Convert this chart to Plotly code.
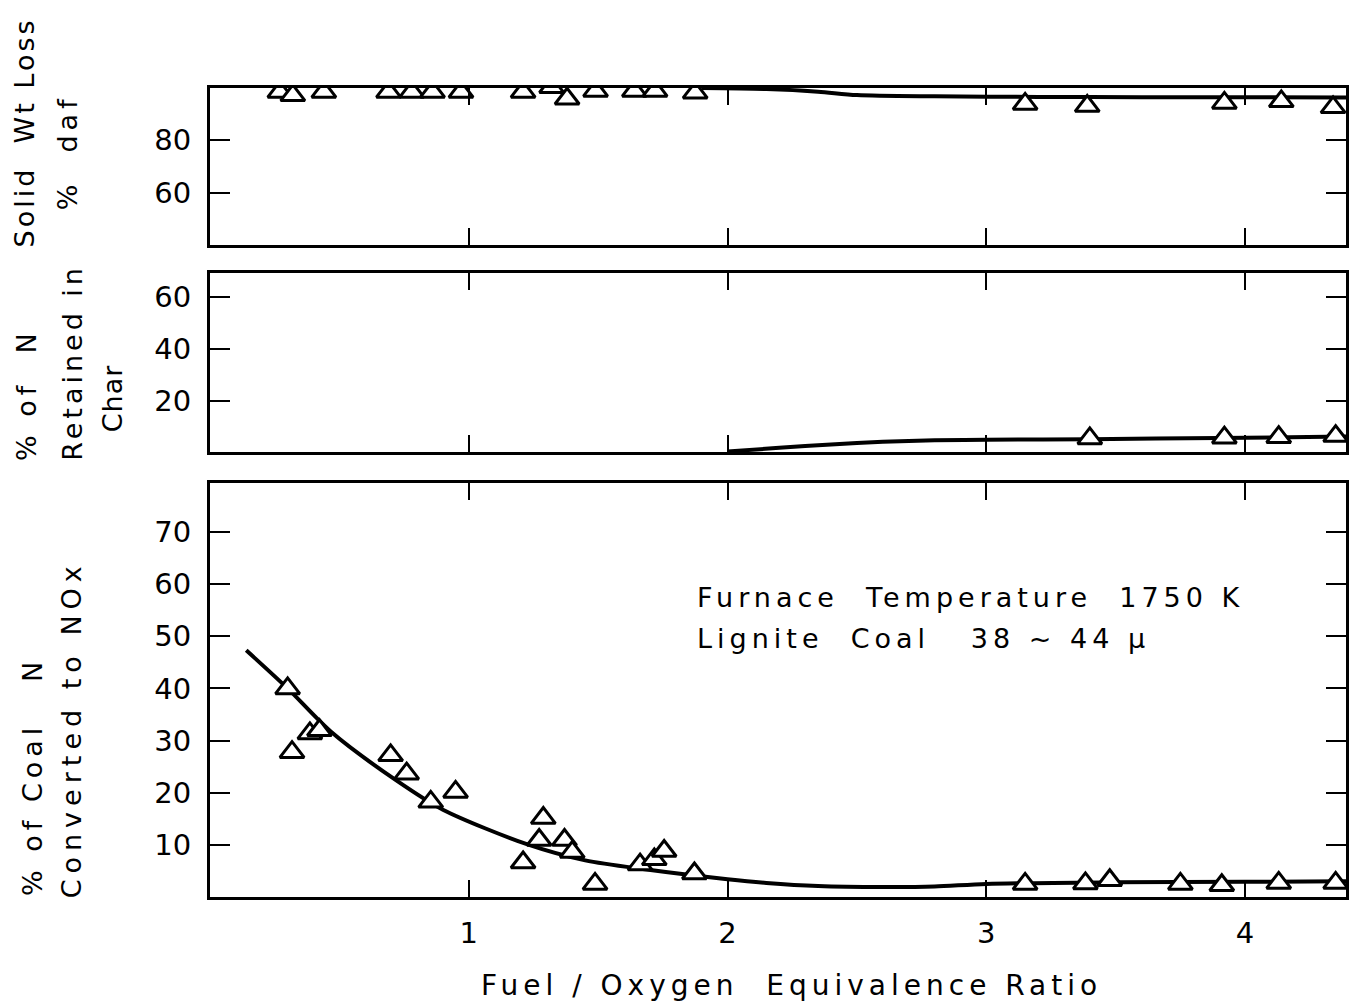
import plotly.graph_objects as go
from plotly.subplots import make_subplots

# ---- data -------------------------------------------------------------
# Solid weight loss (% daf)
wl_x = [0.27, 0.32, 0.44, 0.69, 0.78, 0.86, 0.97, 1.21, 1.32, 1.38, 1.49,
        1.64, 1.72, 1.875, 3.15, 3.39, 3.92, 4.14, 4.34]
wl_y = [98.5, 97.2, 98.5, 98.5, 98.5, 98.5, 98.5, 98.5, 100.3, 95.9, 98.9,
        98.9, 98.9, 98.2, 93.9, 93.1, 94.3, 94.9, 92.6]
wl_fit_x = [1.9, 2.15, 2.35, 2.5, 2.8, 3.2, 3.6, 4.0, 4.39]
wl_fit_y = [100.0, 99.6, 98.6, 97.3, 96.8, 96.6, 96.5, 96.5, 96.4]

# Nitrogen retained in char (%)
char_x = [3.40, 3.92, 4.13, 4.35]
char_y = [5.6, 5.9, 6.1, 6.5]
char_fit_x = [2.0, 2.2, 2.4, 2.6, 2.8, 3.0, 3.4, 3.9, 4.39]
char_fit_y = [0.6, 2.0, 3.3, 4.3, 4.9, 5.1, 5.3, 5.8, 6.3]

# Coal nitrogen converted to NOx (%)
nox_x = [0.30, 0.317, 0.386, 0.423, 0.698, 0.76, 0.853, 0.949, 1.21, 1.272,
         1.288, 1.37, 1.40, 1.488, 1.662, 1.717, 1.755, 1.872,
         3.15, 3.383, 3.477, 3.75, 3.91, 4.13, 4.35]
nox_y = [40.0, 27.8, 31.4, 32.0, 27.2, 23.7, 18.3, 20.2, 6.7, 11.0,
         15.2, 11.0, 8.7, 2.6, 6.3, 7.3, 8.9, 4.6,
         2.6, 2.7, 3.3, 2.6, 2.35, 2.8, 2.8]
nox_fit_x = [0.14, 0.30, 0.47, 0.72, 0.90, 1.23, 1.45, 1.68, 2.0, 2.15,
             2.35, 2.6, 2.8, 3.0, 3.5, 4.0, 4.39]
nox_fit_y = [47.3, 40.0, 31.6, 22.4, 16.8, 10.1, 7.1, 5.4, 3.5, 2.8,
             2.2, 2.0, 2.1, 2.6, 2.9, 3.0, 3.1]

x_ticks = [1, 2, 3, 4]
wl_ticks = [60, 80]
char_ticks = [20, 40, 60]
nox_ticks = [10, 20, 30, 40, 50, 60, 70]

# ---- page geometry (pixels) --------------------------------------------
W, H = 1353, 1006
LEFT, RIGHT = 210, 1349
TOP, BOTTOM = 88, 897
PLOT_W = RIGHT - LEFT
PLOT_H = BOTTOM - TOP


def px(xp):
    return (xp - LEFT) / PLOT_W


def py(yp):
    return (BOTTOM - yp) / PLOT_H


def spaced(text, gap):
    """Wrap text in a span with extra letter spacing (wide lettering)."""
    return f'<span style="letter-spacing:{gap}px">{text}</span>'


FONT = "DejaVu Sans"
INK = "black"

fig = make_subplots(rows=3, cols=1)

fit_line = dict(color=INK, width=4, shape="spline", smoothing=0.8)
tri = dict(symbol="triangle-up", size=21, color="white",
           line=dict(color=INK, width=3))

panels = [
    (wl_fit_x, wl_fit_y, wl_x, wl_y),
    (char_fit_x, char_fit_y, char_x, char_y),
    (nox_fit_x, nox_fit_y, nox_x, nox_y),
]
for i, (fx, fy, mx, my) in enumerate(panels, start=1):
    fig.add_trace(go.Scatter(x=fx, y=fy, mode="lines", line=fit_line,
                             hoverinfo="skip", showlegend=False),
                  row=i, col=1)
    fig.add_trace(go.Scatter(x=mx, y=my, mode="markers", marker=tri,
                             showlegend=False),
                  row=i, col=1)

axis_common = dict(showgrid=False, zeroline=False, showline=True,
                   linecolor=INK, linewidth=3, mirror="ticks",
                   ticks="inside", tickcolor=INK, tickwidth=2,
                   tickfont=dict(family=FONT, size=29, color=INK))

domains = [(py(245), py(88)), (py(452), py(272.7)), (py(897), py(483))]
y_ranges = [[40, 100], [0.4, 69.2], [0.1, 79.3]]
y_ticks = [wl_ticks, char_ticks, nox_ticks]

for i in range(3):
    xa = "xaxis" if i == 0 else f"xaxis{i + 1}"
    ya = "yaxis" if i == 0 else f"yaxis{i + 1}"
    fig.layout[xa].update(axis_common, range=[0, 4.39], tickvals=x_ticks,
                          ticklen=17, showticklabels=(i == 2),
                          ticklabelstandoff=8, domain=[0, 1])
    fig.layout[ya].update(axis_common, range=y_ranges[i], tickvals=y_ticks[i],
                          ticklen=20, ticklabelstandoff=10,
                          domain=list(domains[i]))

# ---- axis titles ---------------------------------------------------------
title_font = dict(family=FONT, size=27, color=INK)
annotations = []


def vtext(text, xp, yp, yanchor, gap=5):
    annotations.append(dict(text=spaced(text, gap), x=px(xp), y=py(yp),
                            xref="paper", yref="paper", textangle=-90,
                            showarrow=False, xanchor="center",
                            yanchor=yanchor, font=title_font))


vtext("Solid  Wt Loss", 25, 249, "bottom", gap=3)
vtext("%  daf", 68, 152, "middle")
vtext("% of  N", 26, 463, "bottom")
vtext("Retained in", 72, 463, "bottom", gap=4)
vtext("Char", 112, 398, "middle", gap=1)
vtext("% of Coal   N", 32, 898, "bottom")
vtext("Converted to NOx", 72, 900, "bottom", gap=6)

annotations.append(dict(text=spaced("Fuel / Oxygen  Equivalence Ratio", 5),
                        x=px(793), y=py(985), xref="paper", yref="paper",
                        showarrow=False, xanchor="center", yanchor="middle",
                        font=dict(family=FONT, size=28, color=INK)))

# run conditions, written inside the NOx panel
note_font = dict(family=FONT, size=27, color=INK)
annotations.append(dict(text=spaced("Furnace  Temperature  1750 K", 5),
                        x=1.875, y=57.4, xref="x3", yref="y3",
                        showarrow=False, xanchor="left", yanchor="middle",
                        font=note_font))
annotations.append(dict(text=spaced("Lignite  Coal   38 ~ 44 μ", 5),
                        x=1.875, y=49.6, xref="x3", yref="y3",
                        showarrow=False, xanchor="left", yanchor="middle",
                        font=note_font))

fig.update_layout(width=W, height=H,
                  margin=dict(l=LEFT, r=W - RIGHT, t=TOP, b=H - BOTTOM),
                  paper_bgcolor="white", plot_bgcolor="white",
                  annotations=annotations, showlegend=False)

fig.write_html("out.html")
